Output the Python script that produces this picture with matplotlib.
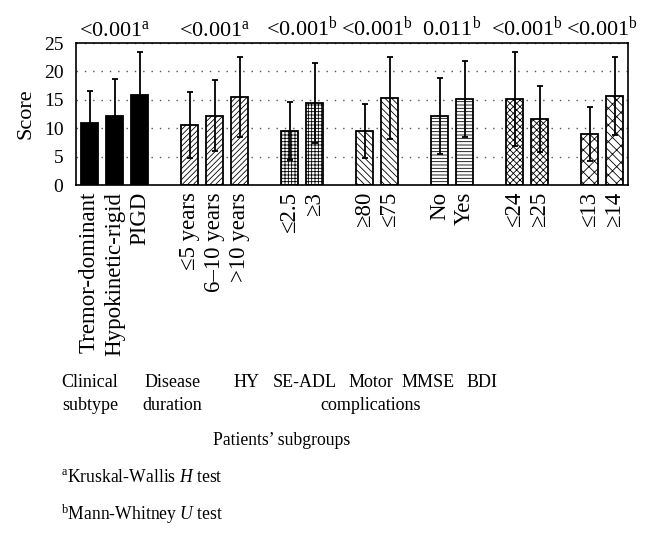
import matplotlib
matplotlib.use("Agg")
import matplotlib.pyplot as plt
import numpy as np

# ---------------- data ----------------
labels = ["Tremor-dominant", "Hypokinetic-rigid", "PIGD",
          "\u22645 years", "6\u201310 years", ">10 years",
          "\u22642.5", "\u22653",
          "\u226580", "\u226475",
          "No", "Yes",
          "\u226424", "\u226525",
          "\u226413", "\u226514"]
means = [11.0, 12.1, 15.9,
         10.6, 12.2, 15.5,
         9.5, 14.4,
         9.5, 15.3,
         12.1, 15.1,
         15.2, 11.65,
         9.0, 15.65]
sds = [5.5, 6.5, 7.5,
       5.8, 6.3, 7.0,
       5.1, 7.0,
       4.8, 7.2,
       6.7, 6.7,
       8.3, 5.8,
       4.7, 6.9]
group_sizes = [3, 3, 2, 2, 2, 2, 2]
group_names = [("Clinical", "subtype"), ("Disease", "duration"), ("HY", ""),
               ("SE-ADL", ""), ("Motor", "complications"), ("MMSE", ""), ("BDI", "")]
pvalues = ["<0.001", "<0.001", "<0.001", "<0.001", "0.011", "<0.001", "<0.001"]
ptests = ["a", "a", "b", "b", "b", "b", "b"]

# ---------------- style ----------------
plt.rcParams['font.family'] = ['Liberation Serif', 'DejaVu Serif']
plt.rcParams['mathtext.fontset'] = 'custom'
plt.rcParams['mathtext.rm'] = 'Liberation Serif'
plt.rcParams['mathtext.it'] = 'Liberation Serif:italic'
plt.rcParams['hatch.linewidth'] = 0.6

hatches = [None, None, None,
           '//////', '//////', '//////',
           '+++++', '+++++',
           '\\\\\\\\\\', '\\\\\\\\\\',
           '-----', '-----',
           'xxxxx', 'xxxxx',
           'xxx', '\\\\\\\\//']
faces = ['black'] * 3 + ['white'] * 13

W, H = 651, 539
fig = plt.figure(figsize=(W / 100, H / 100), dpi=100)
ax = fig.add_axes([76 / W, 1 - 185 / H, (628 - 76) / W, (185 - 43) / H])

# positions: one empty slot between groups
pos = []
start = 0
group_centers = []
for g in group_sizes:
    p = list(range(start, start + g))
    pos += p
    group_centers.append(np.mean(p))
    start += g + 1
pos = np.array(pos, dtype=float)

ax.set_axisbelow(True)
ax.yaxis.grid(True, linestyle=(0, (1, 5)), color='#555555', linewidth=1.0)
for x, m, s, h, fc in zip(pos, means, sds, hatches, faces):
    ax.bar(x, m, width=0.68, color=fc, edgecolor='black', linewidth=1.3,
           hatch=h, zorder=2)
    ax.errorbar(x, m, yerr=s, fmt='none', ecolor='black', elinewidth=1.3,
                capsize=2.5, capthick=1.3, zorder=3)

ax.set_xlim(-0.54, pos[-1] + 0.54)
ax.set_ylim(0, 25)
ax.set_yticks([0, 5, 10, 15, 20, 25])
ax.tick_params(axis='y', length=0, pad=9, labelsize=14)
ax.set_xticks(pos)
ax.set_xticklabels(labels, rotation=90, fontsize=16.5)
ax.tick_params(axis='x', length=0, pad=5)
for sp in ax.spines.values():
    sp.set_linewidth(1.2)

ax.set_ylabel("Score", fontsize=16, labelpad=6)

for c, p, t in zip(group_centers, pvalues, ptests):
    ax.text(c, 26.3, p + r"$^{\mathrm{%s}}$" % t, ha='center', va='baseline',
            fontsize=16, clip_on=False)

# group labels below tick labels (pixel layout)
gx = [90, 172.5, 246.5, 304.5, 370.5, 428, 482]
for x, (l1, l2) in zip(gx, group_names):
    fig.text(x / W, 1 - 387 / H, l1, ha='center', va='baseline', fontsize=13)
    if l2:
        fig.text(x / W, 1 - 410 / H, l2, ha='center', va='baseline', fontsize=13)

fig.text(282 / W, 1 - 445 / H, "Patients\u2019 subgroups", ha='center',
         va='baseline', fontsize=12.7)
fig.text(61 / W, 1 - 482 / H, r"$^{\mathrm{a}}$Kruskal-Wallis $H$ test",
         ha='left', va='baseline', fontsize=12.7)
fig.text(61 / W, 1 - 520 / H, r"$^{\mathrm{b}}$Mann-Whitney $U$ test",
         ha='left', va='baseline', fontsize=12.7)

fig.savefig("out.png", dpi=100)
